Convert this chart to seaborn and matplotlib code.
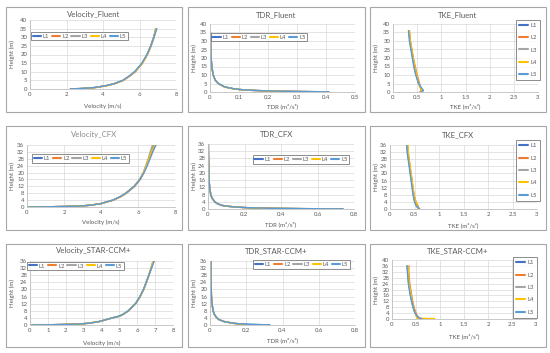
import pandas as pd
import seaborn as sns
import matplotlib.pyplot as plt
from matplotlib.patches import Rectangle
from matplotlib.ticker import FuncFormatter

# Line names and Excel style colours
lines = ['L1', 'L2', 'L3', 'L4', 'L5']
colors = ['#4472C4', '#ED7D31', '#A5A5A5', '#FFC000', '#5B9BD5']

# Velocity_Fluent
h_vel_fluent = [0.05, 0.3, 0.7, 1, 2, 3, 5, 7.5, 10, 15, 20, 25, 30, 35]
vel_fluent = [
    [2.2, 2.8, 3.4, 3.65, 4.2, 4.6, 5.1, 5.45, 5.75, 6.15, 6.42, 6.62, 6.78, 6.9],
    [2.6, 2.95, 3.45, 3.7, 4.25, 4.63, 5.12, 5.47, 5.77, 6.17, 6.44, 6.64, 6.8, 6.92],
    [2.3, 2.8, 3.4, 3.65, 4.2, 4.6, 5.1, 5.45, 5.75, 6.15, 6.41, 6.61, 6.77, 6.88],
    [2.5, 2.9, 3.42, 3.68, 4.22, 4.62, 5.11, 5.46, 5.76, 6.16, 6.43, 6.63, 6.79, 6.91],
    [2.35, 2.8, 3.38, 3.63, 4.18, 4.58, 5.08, 5.43, 5.73, 6.13, 6.41, 6.62, 6.79, 6.95],
]

# TDR_Fluent
h_tdr_fluent = [0.1, 0.3, 0.6, 1, 1.5, 2, 3, 5, 7, 10, 15, 20, 25, 30, 35]
tdr_fluent = [
    [0.41, 0.3, 0.2, 0.14, 0.1, 0.078, 0.05, 0.028, 0.018, 0.011, 0.006, 0.004, 0.003, 0.002, 0.0015],
    [0.40, 0.3, 0.2, 0.14, 0.1, 0.078, 0.05, 0.028, 0.018, 0.011, 0.006, 0.004, 0.003, 0.002, 0.0015],
    [0.405, 0.3, 0.2, 0.14, 0.1, 0.078, 0.05, 0.028, 0.018, 0.011, 0.006, 0.004, 0.003, 0.002, 0.0015],
    [0.395, 0.29, 0.2, 0.14, 0.1, 0.078, 0.05, 0.028, 0.018, 0.011, 0.006, 0.004, 0.003, 0.002, 0.0015],
    [0.41, 0.3, 0.21, 0.145, 0.1, 0.079, 0.051, 0.029, 0.018, 0.011, 0.006, 0.004, 0.003, 0.002, 0.0015],
]

# TKE_Fluent
h_tke_fluent = [0, 0.5, 1, 2, 5, 10, 15, 20, 25, 30, 36]
tke_fluent = [
    [0.56, 0.6, 0.6, 0.58, 0.53, 0.48, 0.44, 0.41, 0.38, 0.35, 0.33],
    [0.56, 0.57, 0.58, 0.57, 0.55, 0.5, 0.46, 0.42, 0.39, 0.36, 0.34],
    [0.58, 0.6, 0.6, 0.58, 0.53, 0.48, 0.44, 0.41, 0.38, 0.35, 0.33],
    [0.57, 0.58, 0.59, 0.57, 0.54, 0.49, 0.45, 0.42, 0.39, 0.36, 0.34],
    [0.58, 0.62, 0.63, 0.6, 0.53, 0.47, 0.43, 0.4, 0.37, 0.34, 0.32],
]

# Velocity_CFX
h_vel_cfx = [0, 0.1, 0.3, 0.6, 1, 2, 4, 6, 8, 12, 16, 20, 24, 28, 32, 36]
vel_cfx = [
    [0, 1.0, 2.0, 2.9, 3.4, 4.0, 4.65, 5.05, 5.35, 5.8, 6.1, 6.3, 6.45, 6.58, 6.7, 6.85],
    [0, 1.0, 2.0, 2.9, 3.4, 4.02, 4.68, 5.08, 5.38, 5.82, 6.12, 6.32, 6.48, 6.62, 6.76, 6.95],
    [0, 1.0, 2.0, 2.9, 3.4, 4.0, 4.63, 5.03, 5.33, 5.78, 6.08, 6.28, 6.42, 6.55, 6.66, 6.78],
    [0, 1.0, 2.0, 2.9, 3.4, 4.0, 4.65, 5.05, 5.35, 5.8, 6.1, 6.3, 6.45, 6.58, 6.72, 6.9],
    [0, 1.0, 2.0, 2.9, 3.4, 4.0, 4.64, 5.04, 5.34, 5.8, 6.11, 6.33, 6.5, 6.65, 6.8, 6.97],
]

# TDR_CFX
h_tdr_cfx = [0.05, 0.2, 0.4, 0.7, 1, 1.5, 2, 3, 4, 6, 8, 12, 16, 20, 24, 28, 32, 36]
tdr_cfx = [
    [0.74, 0.52, 0.34, 0.22, 0.165, 0.11, 0.075, 0.05, 0.037, 0.022, 0.015, 0.009, 0.006, 0.005, 0.004, 0.003, 0.0025, 0.002],
    [0.72, 0.5, 0.33, 0.22, 0.16, 0.11, 0.078, 0.052, 0.038, 0.023, 0.015, 0.009, 0.006, 0.005, 0.004, 0.003, 0.0025, 0.002],
    [0.73, 0.51, 0.34, 0.22, 0.165, 0.11, 0.075, 0.05, 0.037, 0.022, 0.015, 0.009, 0.006, 0.005, 0.004, 0.003, 0.0025, 0.002],
    [0.72, 0.5, 0.33, 0.22, 0.16, 0.11, 0.076, 0.051, 0.037, 0.022, 0.015, 0.009, 0.006, 0.005, 0.004, 0.003, 0.0025, 0.002],
    [0.74, 0.52, 0.34, 0.23, 0.165, 0.11, 0.075, 0.05, 0.037, 0.022, 0.015, 0.009, 0.006, 0.005, 0.004, 0.003, 0.0025, 0.002],
]

# TKE_CFX
h_tke_cfx = [0, 0.5, 1, 2, 4, 8, 12, 16, 20, 24, 28, 32, 36]
tke_cfx = [
    [0.6, 0.58, 0.56, 0.54, 0.51, 0.48, 0.46, 0.44, 0.42, 0.4, 0.38, 0.36, 0.35],
    [0.57, 0.58, 0.58, 0.57, 0.53, 0.49, 0.47, 0.45, 0.43, 0.41, 0.39, 0.37, 0.36],
    [0.59, 0.58, 0.56, 0.54, 0.51, 0.48, 0.46, 0.44, 0.42, 0.4, 0.38, 0.36, 0.35],
    [0.56, 0.57, 0.57, 0.56, 0.53, 0.49, 0.47, 0.45, 0.43, 0.41, 0.39, 0.375, 0.37],
    [0.61, 0.59, 0.56, 0.53, 0.5, 0.47, 0.45, 0.43, 0.41, 0.39, 0.37, 0.35, 0.34],
]

# Velocity_STAR-CCM+
h_vel_star = [0, 0.1, 0.3, 0.6, 1, 2, 4, 5, 6, 8, 12, 16, 20, 24, 28, 32, 36]
vel_star = [
    [0, 0.9, 1.9, 2.8, 3.3, 3.9, 4.6, 5.0, 5.2, 5.5, 5.9, 6.15, 6.35, 6.5, 6.65, 6.78, 6.9],
    [0, 0.9, 1.9, 2.8, 3.3, 3.9, 4.62, 5.02, 5.22, 5.52, 5.92, 6.17, 6.37, 6.52, 6.66, 6.79, 6.92],
    [0, 0.9, 1.9, 2.8, 3.3, 3.9, 4.6, 5.0, 5.2, 5.5, 5.9, 6.15, 6.35, 6.5, 6.64, 6.76, 6.88],
    [0, 0.9, 1.9, 2.8, 3.3, 3.9, 4.61, 5.01, 5.21, 5.51, 5.91, 6.16, 6.36, 6.51, 6.65, 6.78, 6.9],
    [0, 0.9, 1.9, 2.8, 3.3, 3.9, 4.6, 5.0, 5.2, 5.5, 5.9, 6.15, 6.35, 6.5, 6.65, 6.8, 6.95],
]

# TDR_STAR-CCM+
h_tdr_star = [0.05, 0.2, 0.4, 0.7, 1, 1.5, 2, 3, 4, 6, 8, 12, 16, 20, 24, 28, 32, 36]
tdr_star = [
    [0.33, 0.28, 0.21, 0.16, 0.13, 0.1, 0.075, 0.05, 0.037, 0.024, 0.017, 0.011, 0.008, 0.007, 0.006, 0.005, 0.005, 0.005],
    [0.2, 0.19, 0.17, 0.15, 0.125, 0.1, 0.075, 0.05, 0.037, 0.024, 0.017, 0.011, 0.008, 0.007, 0.006, 0.005, 0.005, 0.005],
    [0.2, 0.19, 0.17, 0.15, 0.125, 0.1, 0.075, 0.05, 0.037, 0.024, 0.017, 0.011, 0.008, 0.007, 0.006, 0.005, 0.005, 0.005],
    [0.21, 0.19, 0.17, 0.15, 0.125, 0.1, 0.075, 0.05, 0.037, 0.024, 0.017, 0.011, 0.008, 0.007, 0.006, 0.005, 0.005, 0.005],
    [0.33, 0.28, 0.21, 0.16, 0.13, 0.1, 0.076, 0.051, 0.038, 0.024, 0.017, 0.011, 0.008, 0.007, 0.006, 0.005, 0.005, 0.005],
]

# TKE_STAR-CCM+
h_tke_star = [0.3, 0.5, 1, 2, 4, 8, 12, 16, 20, 24, 28, 32, 36]
tke_star = [
    [0.6, 0.57, 0.55, 0.52, 0.48, 0.44, 0.41, 0.39, 0.37, 0.35, 0.34, 0.33, 0.32],
    [0.6, 0.58, 0.56, 0.53, 0.5, 0.46, 0.43, 0.41, 0.39, 0.37, 0.36, 0.35, 0.35],
    [0.6, 0.57, 0.55, 0.52, 0.48, 0.44, 0.41, 0.39, 0.37, 0.35, 0.34, 0.33, 0.32],
    [0.89, 0.52, 0.52, 0.5, 0.49, 0.45, 0.42, 0.4, 0.38, 0.36, 0.35, 0.34, 0.33],
    [0.62, 0.58, 0.55, 0.52, 0.48, 0.44, 0.41, 0.38, 0.36, 0.34, 0.33, 0.32, 0.31],
]

W, H = 550, 353
sns.set_theme(style='whitegrid')
plt.rcParams['font.family'] = ['Lato', 'DejaVu Sans']
txt = '#595959'

fig = plt.figure(figsize=(W / 100, H / 100), dpi=100)
fig.patch.set_facecolor('white')


def frac(x0, y0, x1, y1):
    return [x0 / W, 1 - y1 / H, (x1 - x0) / W, (y1 - y0) / H]


def fmt(v, pos):
    return '{:g}'.format(round(v, 3))


def panel(box, area, title, heights, series, xlim, xstep, ylim, ystep, xlabel,
          title_y, xlabel_y, leg, vertical=False, title_color=txt):
    bx0, by0, bx1, by1 = box
    fig.patches.append(Rectangle((bx0 / W, 1 - by1 / H), (bx1 - bx0) / W, (by1 - by0) / H,
                                 transform=fig.transFigure, fill=False,
                                 edgecolor='#A6A6A6', linewidth=0.8))
    ax = fig.add_axes(frac(*area))
    rows = []
    for name, vals in zip(lines, series):
        for hh, v in zip(heights, vals):
            rows.append({'value': v, 'height': hh, 'line': name})
    df = pd.DataFrame(rows)
    sns.lineplot(data=df, x='value', y='height', hue='line', palette=colors,
                 sort=False, estimator=None, linewidth=1.0, ax=ax)
    ax.set_xlim(*xlim)
    ax.set_ylim(*ylim)
    n = int(round((xlim[1] - xlim[0]) / xstep))
    ax.set_xticks([xlim[0] + i * xstep for i in range(n + 1)])
    m = int(round((ylim[1] - ylim[0]) / ystep))
    ax.set_yticks([ylim[0] + i * ystep for i in range(m + 1)])
    ax.xaxis.set_major_formatter(FuncFormatter(fmt))
    ax.yaxis.set_major_formatter(FuncFormatter(fmt))
    ax.tick_params(labelsize=4.3, colors=txt, length=0, pad=2)
    ax.grid(True, color='#D9D9D9', linewidth=0.5)
    ax.set_facecolor('white')
    for s in ['top', 'right']:
        ax.spines[s].set_visible(False)
    for s in ['left', 'bottom']:
        ax.spines[s].set_color('#BFBFBF')
        ax.spines[s].set_linewidth(0.6)
    ax.set_xlabel('')
    ax.set_ylabel('')
    cx = (bx0 + bx1) / 2
    fig.text(cx / W, 1 - title_y / H, title, ha='center', va='center',
             fontsize=5.6, color=title_color)
    fig.text((area[0] + area[2]) / 2 / W, 1 - xlabel_y / H, xlabel, ha='center',
             va='center', fontsize=4.4, color=txt)
    fig.text((bx0 + 6) / W, 1 - (area[1] + area[3]) / 2 / H, 'Height (m)',
             rotation=90, ha='center', va='center', fontsize=4.4, color=txt)
    handles, labels = ax.get_legend_handles_labels()
    lx0, ly0, lx1, ly1 = leg
    if vertical:
        lg = ax.legend(handles, labels, loc='center', ncol=1,
                       bbox_to_anchor=frac(lx0, ly0, lx1, ly1), bbox_transform=fig.transFigure,
                       fontsize=4.2, handlelength=1.6, handletextpad=0.4,
                       labelspacing=1.25, borderpad=0.5, frameon=True, fancybox=False)
    else:
        lg = ax.legend(handles, labels, loc='center', ncol=5,
                       bbox_to_anchor=frac(lx0, ly0, lx1, ly1), bbox_transform=fig.transFigure,
                       fontsize=4.2, handlelength=1.4, handletextpad=0.3,
                       columnspacing=0.5, borderpad=0.3, borderaxespad=0,
                       frameon=True, fancybox=False)
    lg.get_frame().set_edgecolor('#595959')
    lg.get_frame().set_linewidth(0.6)
    for hl in lg.get_lines():
        hl.set_linewidth(1.5)
    for t in lg.get_texts():
        t.set_color(txt)
    return ax


vel_lab = 'Velocity (m/s)'
tdr_lab = 'TDR (m²/s³)'
tke_lab = 'TKE (m²/s²)'

# Row 1: Fluent
panel((6, 7, 182, 112), (30, 20, 176, 89), 'Velocity_Fluent', h_vel_fluent, vel_fluent,
      (0, 8), 2, (0, 40), 5, vel_lab, 15, 106, (32, 32, 127, 40))
panel((188, 7, 365, 112), (210, 24, 355, 92), 'TDR_Fluent', h_tdr_fluent, tdr_fluent,
      (0, 0.5), 0.1, (0, 40), 5, tdr_lab, 15, 106, (212, 33, 306, 41))
panel((370, 7, 546, 112), (393, 24, 538, 92), 'TKE_Fluent', h_tke_fluent, tke_fluent,
      (0, 3), 0.5, (0, 40), 5, tke_lab, 15, 106, (518, 25, 538, 75), vertical=True)

# Row 2: CFX
panel((6, 126, 182, 230), (27, 145, 175, 207), 'Velocity_CFX', h_vel_cfx, vel_cfx,
      (0, 8), 2, (0, 36), 4, vel_lab, 135, 222, (33, 155, 128, 162), title_color='#8C8C8C')
panel((188, 126, 365, 230), (208, 144, 354, 209), 'TDR_CFX', h_tdr_cfx, tdr_cfx,
      (0, 0.8), 0.2, (0, 36), 4, tdr_lab, 134, 224, (253, 156, 349, 163))
panel((370, 126, 546, 230), (390, 145, 537, 209), 'TKE_CFX', h_tke_cfx, tke_cfx,
      (0, 3), 0.5, (0, 36), 4, tke_lab, 135, 225, (518, 146, 538, 195), vertical=True)

# Row 3: STAR-CCM+
panel((6, 244, 182, 347), (30, 261, 173, 325), 'Velocity_STAR-CCM+', h_vel_star, vel_star,
      (0, 8), 1, (0, 36), 4, vel_lab, 251, 343, (29, 262, 122, 270))
panel((188, 244, 365, 347), (210, 261, 355, 325), 'TDR_STAR-CCM+', h_tdr_star, tdr_star,
      (0, 0.8), 0.2, (0, 36), 4, tdr_lab, 251, 340, (254, 261, 349, 268))
panel((370, 244, 546, 347), (392, 260, 536, 319), 'TKE_STAR-CCM+', h_tke_star, tke_star,
      (0, 3), 0.5, (0, 40), 4, tke_lab, 251, 336, (514, 262, 536, 313), vertical=True)

fig.savefig('out.png', dpi=100, facecolor='white')
